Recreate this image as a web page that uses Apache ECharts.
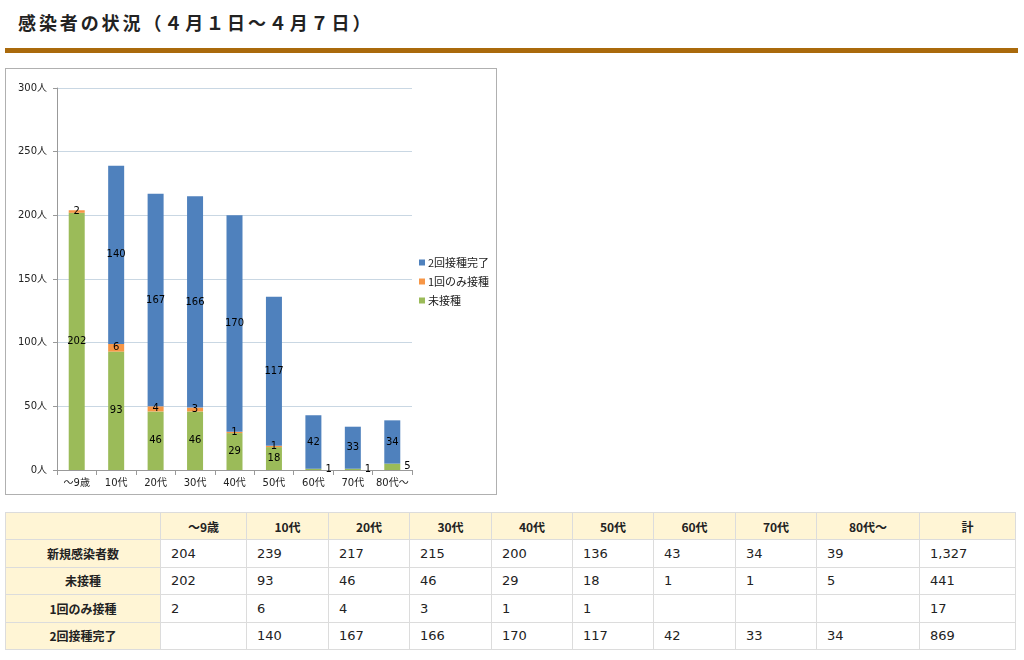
<!DOCTYPE html>
<html>
<head>
<meta charset="utf-8">
<script src="https://cdn.jsdelivr.net/npm/echarts@6/dist/echarts.min.js"></script>
<style>
  html, body { margin: 0; padding: 0; background: #fff; width: 1024px; height: 660px; overflow: hidden; }
  #title { position: absolute; left: 18px; top: 8px; font-family: "Noto Sans CJK JP", sans-serif; font-weight: bold; font-size: 18px; letter-spacing: 2.9px; color: #222; line-height: 28px; }
  #rule { position: absolute; left: 5px; top: 48px; width: 1013px; height: 5px; background: #aa6a0c; }
  #box { position: absolute; left: 5px; top: 68px; width: 490px; height: 425px; border: 1px solid #b0b0b0; }
  #chart { width: 490px; height: 425px; }
  #tbl { position: absolute; left: 5px; top: 512px; width: 1010px; border-collapse: collapse; font-family: "DejaVu Sans", "Noto Sans CJK JP", sans-serif; font-size: 13px; color: #222; table-layout: fixed; }
  #tbl td, #tbl th { border: 1px solid #dcdcdc; height: 27.4px; padding: 0 0 0 10px; box-sizing: border-box; }
  #tbl th { background: #fff5d5; font-family: "Noto Sans CJK JP", sans-serif; font-weight: bold; font-size: 12px; text-align: center; padding: 0; }
  #tbl td { text-align: left; }
</style>
</head>
<body>
<div id="title">感染者の状況（４月１日～４月７日）</div>
<div id="rule"></div>
<div id="box"><div id="chart"></div></div>
<table id="tbl"></table>
<script>
const categories = ['～9歳', '10代', '20代', '30代', '40代', '50代', '60代', '70代', '80代～'];
const unvaccinated = [202, 93, 46, 46, 29, 18, 1, 1, 5];
const onceOnly = [2, 6, 4, 3, 1, 1, null, null, null];
const twice = [null, 140, 167, 166, 170, 117, 42, 33, 34];
const newCases = [204, 239, 217, 215, 200, 136, 43, 34, 39];
const totals = { newCases: '1,327', unvaccinated: '441', onceOnly: '17', twice: '869' };
const seriesNames = ['未接種', '1回のみ接種', '2回接種完了'];
const rowNames = ['新規感染者数', '未接種', '1回のみ接種', '2回接種完了'];
const totalHeader = '計';
const yTicks = { min: 0, max: 300, interval: 50, unit: '人' };

const fam = 'DejaVu Sans, Noto Sans CJK JP, sans-serif';
const labelFont = { fontSize: 10, color: '#000', fontFamily: fam };
const smallRight = new Set([6, 7, 8]);

const chart = echarts.init(document.getElementById('chart'), null, { renderer: 'canvas' });
chart.setOption({
  animation: false,
  grid: { left: 51, top: 19, width: 355, height: 382 },
  legend: {
    orient: 'vertical', left: 408, top: 183, itemWidth: 6, itemHeight: 6, itemGap: 8,
    icon: 'rect',
    data: ['2回接種完了', '1回のみ接種', '未接種'],
    textStyle: { fontSize: 11, color: '#222', fontFamily: 'Noto Sans CJK JP, sans-serif', padding: [0, 0, 0, -2] }
  },
  xAxis: {
    type: 'category', data: categories,
    axisLine: { lineStyle: { color: '#999' } },
    axisTick: { show: true, length: 5, lineStyle: { color: '#999' } },
    axisLabel: { interval: 0, color: '#222', fontSize: 10, margin: 8, fontFamily: fam }
  },
  yAxis: {
    type: 'value', min: yTicks.min, max: yTicks.max, interval: yTicks.interval,
    axisLine: { show: true, lineStyle: { color: '#999' } },
    axisTick: { show: true, length: 4, lineStyle: { color: '#999' } },
    splitLine: { lineStyle: { color: '#c9d7e3' } },
    axisLabel: { formatter: '{value}' + yTicks.unit, color: '#222', fontSize: 10, margin: 10, fontFamily: fam }
  },
  series: [
    {
      name: seriesNames[0], type: 'bar', stack: 's', barWidth: 16,
      itemStyle: { color: '#9bbb59' },
      data: unvaccinated.map((v, i) => smallRight.has(i)
        ? { value: v, label: { show: true, position: 'right', distance: 4 } }
        : v),
      label: Object.assign({ show: true, position: 'inside' }, labelFont)
    },
    {
      name: seriesNames[1], type: 'bar', stack: 's', barWidth: 16,
      itemStyle: { color: '#f79646' },
      data: onceOnly,
      label: Object.assign({ show: true, position: 'inside' }, labelFont)
    },
    {
      name: seriesNames[2], type: 'bar', stack: 's', barWidth: 16,
      itemStyle: { color: '#4f81bd' },
      data: twice,
      label: Object.assign({ show: true, position: 'inside' }, labelFont)
    }
  ]
});

// Build table
const tbl = document.getElementById('tbl');
const colWidths = [155, 86, 82, 81, 82, 81, 81, 82, 81, 103, 96];
let html = '<colgroup>' + colWidths.map(w => '<col style="width:' + w + 'px">').join('') + '</colgroup>';
html += '<tr><th></th>' + categories.map(c => '<th>' + c + '</th>').join('') + '<th>' + totalHeader + '</th></tr>';
const rows = [
  [rowNames[0], newCases, totals.newCases],
  [rowNames[1], unvaccinated, totals.unvaccinated],
  [rowNames[2], onceOnly, totals.onceOnly],
  [rowNames[3], twice, totals.twice]
];
rows.forEach(r => {
  html += '<tr><th>' + r[0] + '</th>' + r[1].map(v => '<td>' + (v == null ? '' : v) + '</td>').join('') + '<td>' + r[2] + '</td></tr>';
});
tbl.innerHTML = html;
</script>
</body>
</html>
